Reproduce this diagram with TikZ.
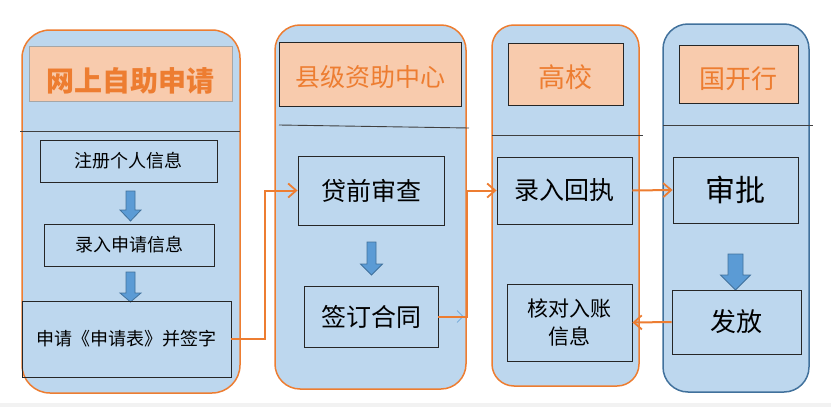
\documentclass[tikz,border=0pt]{standalone}
\usepackage{fontspec}
\setmainfont{Noto Sans CJK SC}
\usetikzlibrary{arrows.meta}
\definecolor{lane}{HTML}{BDD7EE}
\definecolor{peach}{HTML}{F8CBAD}
\definecolor{orng}{HTML}{ED7D31}
\definecolor{steel}{HTML}{41719C}
\definecolor{arrowblue}{HTML}{5B9BD5}
\newcommand{\fs}[1]{\fontsize{#1}{#1}\selectfont}
% block arrow pointing down: x centre, top y, tip y, shaft half width, head half width, head length
\newcommand{\blockdown}[6]{%
	\draw [blockarrow] (#1-#4,#2) -- (#1+#4,#2) -- (#1+#4,#3-#6) -- (#1+#5,#3-#6)
		-- (#1,#3) -- (#1-#5,#3-#6) -- (#1-#4,#3-#6) -- cycle;}

\begin{document}
\begin{tikzpicture}[x=1pt,y=-1pt,
	lanebox/.style={draw=orng,line width=1.5pt,fill=lane,rounded corners=28pt},
	headbox/.style={draw=black!85,fill=peach,inner sep=0pt},
	headtext/.style={text=orng,inner sep=0pt},
	stepbox/.style={draw=black!85,line width=0.9pt,inner sep=0pt,align=center},
	blockarrow/.style={draw=steel,fill=arrowblue,line width=0.8pt},
	flow/.style={draw=orng,line width=2pt,-{Straight Barb[length=8pt,width=14pt,line width=1.8pt]}},
	divider/.style={draw=black!75,line width=0.9pt}]
	\useasboundingbox (0,0) rectangle (831,407);
	\fill [black!5] (0,403) rectangle (831,407);
	% lanes
	\node [lanebox,minimum width=218pt,minimum height=363pt] (lane1) at (131,211.5) {};
	\node [lanebox,minimum width=191pt,minimum height=364pt,rounded corners=25pt] (lane2) at (370.5,207) {};
	\node [lanebox,minimum width=147pt,minimum height=361pt,rounded corners=22pt] (lane3) at (565.5,205.5) {};
	\node [lanebox,draw=steel,minimum width=146pt,minimum height=368pt,rounded corners=25pt] (lane4) at (736,208) {};
	% headers
	\node [headbox,draw=black!35,minimum width=203pt,minimum height=55pt,
		label={[headtext,font=\fs{28}\bfseries,yshift=-7pt]center:网上自助申请}] (head1) at (130.5,73.5) {};
	\node [headbox,minimum width=182pt,minimum height=64pt,
		label={[headtext,font=\fs{25},yshift=-3pt]center:县级资助中心}] (head2) at (370,74) {};
	\node [headbox,minimum width=115pt,minimum height=62pt,
		label={[headtext,font=\fs{27},yshift=-3pt]center:高校}] (head3) at (565.5,74) {};
	\node [headbox,minimum width=119pt,minimum height=58pt,
		label={[headtext,font=\fs{26},yshift=-5pt]center:国开行}] (head4) at (738.5,74) {};
	\draw [divider] (20,131) -- (240,131);
	\draw [divider] (279,125) -- (469,128);
	\draw [divider] (492,135) -- (643,135);
	\draw [divider] (663,125) -- (813,125);
	% steps
	\blockdown{130.5}{191}{221}{4.5}{10.5}{11}
	\blockdown{130.5}{272}{302}{4.5}{10.5}{9}
	\blockdown{371.5}{242}{275}{4.5}{11}{11}
	\blockdown{735.5}{254}{290}{7.5}{15}{15}
	\node [stepbox,minimum width=177pt,minimum height=42pt,font=\fs{18}] (register) at (128.5,161) {注册个人信息};
	\node [stepbox,minimum width=170pt,minimum height=42pt,font=\fs{18}] (enter) at (129,245) {录入申请信息};
	\node [stepbox,minimum width=209pt,minimum height=76pt,font=\fs{18}] (sign) at (126.5,339) {申请《申请表》并签字};
	\node [stepbox,minimum width=146pt,minimum height=69pt,font=\fs{25}] (review) at (371,190.5) {贷前审查};
	\node [stepbox,minimum width=134pt,minimum height=61pt,font=\fs{25}] (contract) at (371,316.5) {签订合同};
	\node [stepbox,minimum width=135pt,minimum height=67pt,font=\fs{25}] (receipt) at (564.5,190.5) {录入回执};
	\node [stepbox,minimum width=125pt,minimum height=77pt,font=\fontsize{21}{28}\selectfont] (check) at (569.5,322.5) {核对入账\\信息};
	\node [stepbox,minimum width=125pt,minimum height=66pt,font=\fs{30}] (approve) at (735.5,190) {审批};
	\node [stepbox,minimum width=129pt,minimum height=64pt,font=\fs{26}] (issue) at (736.5,322) {发放};
	% connectors
	\draw [flow] (sign.east) -- ++(34,0) |- (review.west);
	\draw [arrowblue,line width=0.6pt,-{Straight Barb[length=6pt,width=12pt]}] (contract.east) -- ++(25,0);
	\draw [flow] (contract.east) -- ++(29,0) |- (receipt.west);
	\draw [flow] (receipt.east) -- (approve.west);
	\draw [flow] (issue.west) -- (check.east);
\end{tikzpicture}
\end{document}
